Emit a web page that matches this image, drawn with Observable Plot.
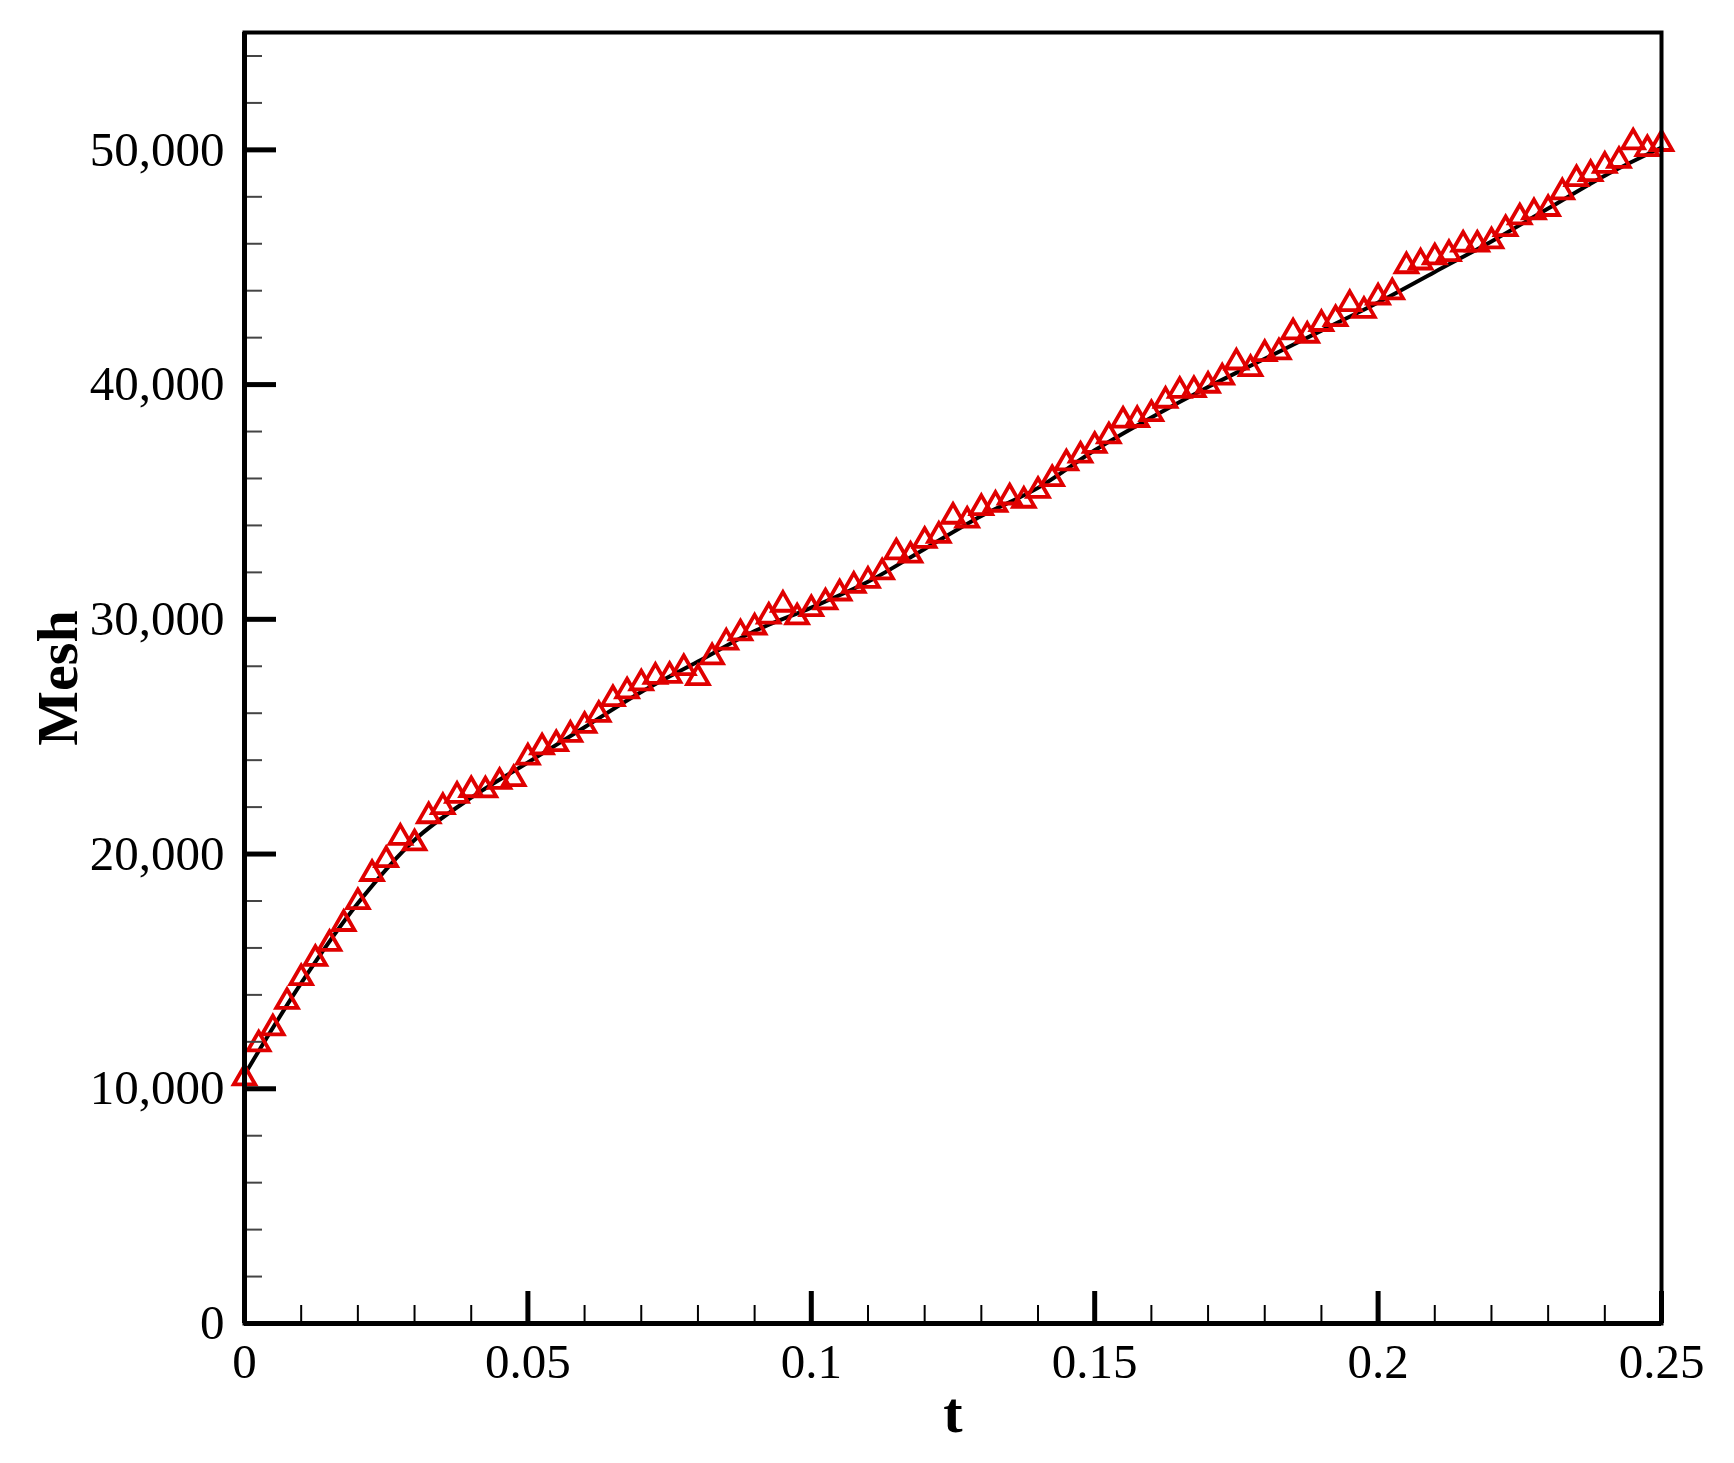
<!DOCTYPE html>
<html><head><meta charset="utf-8">
<script src="https://cdn.jsdelivr.net/npm/d3@7"></script>
<script src="https://cdn.jsdelivr.net/npm/@observablehq/plot@0.6"></script>
<style>
html,body{margin:0;padding:0;background:#fff}
#chart svg{display:block}
</style>
</head><body><div id="chart"></div>
<script>
// ---- data ----
const tValues = [
  0, 0.0025, 0.005, 0.0075, 0.01, 0.0125, 0.015, 0.0175, 0.02, 0.0225,
  0.025, 0.0275, 0.03, 0.0325, 0.035, 0.0375, 0.04, 0.0425, 0.045, 0.0475,
  0.05, 0.0525, 0.055, 0.0575, 0.06, 0.0625, 0.065, 0.0675, 0.07, 0.0725,
  0.075, 0.0775, 0.08, 0.0825, 0.085, 0.0875, 0.09, 0.0925, 0.095, 0.0975,
  0.1, 0.1025, 0.105, 0.1075, 0.11, 0.1125, 0.115, 0.1175, 0.12, 0.1225,
  0.125, 0.1275, 0.13, 0.1325, 0.135, 0.1375, 0.14, 0.1425, 0.145, 0.1475,
  0.15, 0.1525, 0.155, 0.1575, 0.16, 0.1625, 0.165, 0.1675, 0.17, 0.1725,
  0.175, 0.1775, 0.18, 0.1825, 0.185, 0.1875, 0.19, 0.1925, 0.195, 0.1975,
  0.2, 0.2025, 0.205, 0.2075, 0.21, 0.2125, 0.215, 0.2175, 0.22, 0.2225,
  0.225, 0.2275, 0.23, 0.2325, 0.235, 0.2375, 0.24, 0.2425, 0.245, 0.2475,
  0.25
];
const meshValues = [
  10450, 11900, 12580, 13710, 14720, 15540, 16180, 17030, 17960, 19160,
  19750, 20700, 20460, 21620, 22010, 22490, 22730, 22720, 23080, 23200,
  24120, 24550, 24690, 25090, 25470, 25940, 26610, 26940, 27280, 27560,
  27600, 27930, 27500, 28390, 29020, 29410, 29660, 30120, 30630, 30090,
  30440, 30730, 31110, 31440, 31650, 32010, 32860, 32720, 33350, 33570,
  34380, 34210, 34750, 34890, 35200, 35060, 35480, 35980, 36650, 36980,
  37400, 37800, 38470, 38500, 38750, 39320, 39740, 39770, 39960, 40310,
  40950, 40670, 41310, 41380, 42230, 42090, 42590, 42800, 43440, 43150,
  43720, 43940, 45050, 45210, 45430, 45570, 45970, 45970, 46110, 46630,
  47130, 47350, 47490, 48200, 48760, 48980, 49330, 49540, 50330, 50040,
  50260
];
// smooth black reference curve
const fitT = [0, 0.01, 0.02, 0.03, 0.04, 0.05, 0.06, 0.07, 0.08, 0.09, 0.1, 0.11, 0.12,
  0.13, 0.14, 0.15, 0.16, 0.17, 0.18, 0.19, 0.2, 0.21, 0.22, 0.23, 0.24, 0.25];
const fitMesh = [10600, 14500, 17900, 20600, 22400, 23900, 25400, 26900, 28200, 29500, 30500, 31600, 33000,
  34400, 35600, 37200, 38600, 39900, 41100, 42300, 43500, 44800, 46100, 47500, 48900, 50100];

const xMajorTicks = [0, 0.05, 0.1, 0.15, 0.2, 0.25];
const xMinorTicks = [0.01, 0.02, 0.03, 0.04, 0.06, 0.07, 0.08, 0.09, 0.11, 0.12, 0.13, 0.14,
  0.16, 0.17, 0.18, 0.19, 0.21, 0.22, 0.23, 0.24];
const yMajorTicks = [0, 10000, 20000, 30000, 40000, 50000];
const yMinorTicks = [2000, 4000, 6000, 8000, 12000, 14000, 16000, 18000, 22000, 24000, 26000, 28000,
  32000, 34000, 36000, 38000, 42000, 44000, 46000, 48000, 52000, 54000];
const xDomain = [0, 0.25];
const yDomain = [0, 55000];
const xLabel = "t";
const yLabel = "Mesh";

// ---- layout ----
const W = 1734, H = 1463;
const margin = {top: 32, right: 73, bottom: 140, left: 244};
const frameW = W - margin.left - margin.right;
const frameH = H - margin.top - margin.bottom;
const serif = "'Liberation Serif', 'DejaVu Serif', serif";

const points = tValues.map((t, i) => ({t, mesh: meshValues[i]}));
const fit = fitT.map((t, i) => ({t, mesh: fitMesh[i]}));

const chart = Plot.plot({
  width: W,
  height: H,
  marginTop: margin.top,
  marginRight: margin.right,
  marginBottom: margin.bottom,
  marginLeft: margin.left,
  style: {fontFamily: serif, fontSize: "49px", color: "#000", background: "#fff"},
  x: {domain: xDomain, axis: null},
  y: {domain: yDomain, axis: null},
  marks: [
    Plot.line(fit, {x: "t", y: "mesh", stroke: "#000", strokeWidth: 4, curve: "catmull-rom"}),
    Plot.dot(points, {x: "t", y: "mesh", symbol: "triangle", r: 8, stroke: "#e00000", strokeWidth: 3.8, fill: "none"}),
    // inward ticks
    Plot.ruleX(xMinorTicks, {x: d => d, insetTop: frameH - 18, stroke: "#000", strokeWidth: 2}),
    Plot.ruleX(xMajorTicks, {x: d => d, insetTop: frameH - 32, stroke: "#000", strokeWidth: 5}),
    Plot.ruleY(yMinorTicks, {y: d => d, insetRight: frameW - 18, stroke: "#444", strokeWidth: 2}),
    Plot.ruleY(yMajorTicks, {y: d => d, insetRight: frameW - 32, stroke: "#000", strokeWidth: 5}),
    Plot.frame({stroke: "#000", strokeWidth: 4}),
    Plot.ruleX([xDomain[0]], {x: d => d, stroke: "#000", strokeWidth: 5}),
    Plot.ruleY([yDomain[0]], {y: d => d, stroke: "#000", strokeWidth: 5}),
    // tick labels
    Plot.axisX({ticks: xMajorTicks, tickSize: 0, tickPadding: 20, tickFormat: d => String(d),
      label: null, fontSize: 49, fontFamily: serif, fill: "#000"}),
    Plot.axisY({ticks: yMajorTicks, tickSize: 0, tickPadding: 20, tickFormat: d3.format(","),
      label: null, fontSize: 49, fontFamily: serif, fill: "#000"}),
    // axis titles
    Plot.text([xLabel], {frameAnchor: "bottom", text: d => d, dy: 90, lineAnchor: "middle", textAnchor: "middle",
      fontSize: 58, fontWeight: "bold", fontFamily: serif, fill: "#000"}),
    Plot.text([yLabel], {frameAnchor: "left", text: d => d, dx: -186, rotate: -90, lineAnchor: "middle", textAnchor: "middle",
      fontSize: 58, fontWeight: "bold", fontFamily: serif, fill: "#000"})
  ]
});
document.getElementById("chart").appendChild(chart);
</script>
</body></html>
